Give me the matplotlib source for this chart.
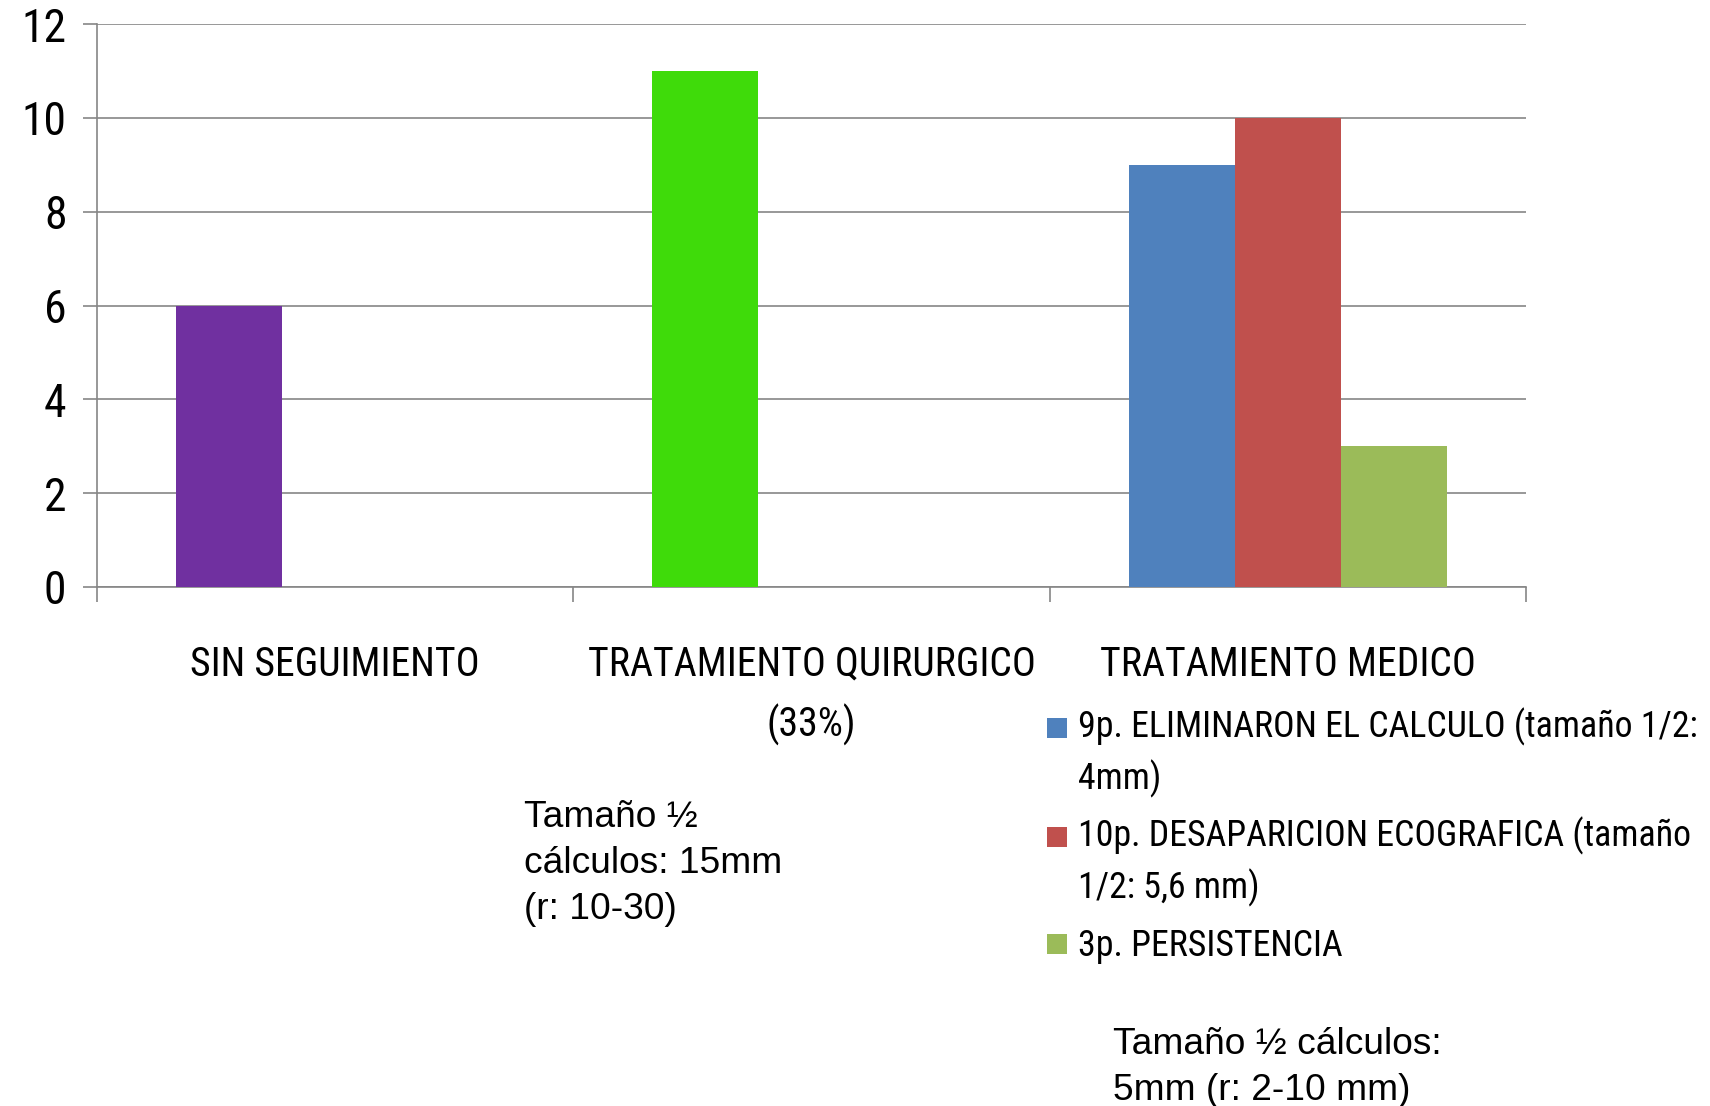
import matplotlib
matplotlib.use("Agg")
import matplotlib.pyplot as plt
from matplotlib.patches import Rectangle
import numpy as np

# ---------------- data ----------------
categories = ["SIN SEGUIMIENTO", "TRATAMIENTO QUIRURGICO\n(33%)", "TRATAMIENTO MEDICO"]
series1 = [6, 11, 9]
series2 = [0, 0, 10]
series3 = [0, 0, 3]
series1_colors = ["#7030A0", "#3FDB0A", "#4F81BD"]
series2_color = "#C0504D"
series3_color = "#9BBB59"
legend_labels = ["9p. ELIMINARON EL CALCULO (tamaño 1/2:\n4mm)",
                 "10p. DESAPARICION ECOGRAFICA (tamaño\n1/2: 5,6 mm)",
                 "3p. PERSISTENCIA"]
legend_colors = ["#4F81BD", "#C0504D", "#9BBB59"]
note_quirurgico = "Tamaño ½\ncálculos: 15mm\n(r: 10-30)"
note_medico = "Tamaño ½ cálculos:\n5mm (r: 2-10 mm)"
yticks = [0, 2, 4, 6, 8, 10, 12]

# ---------------- style ----------------
NARROW = ["Liberation Sans Narrow", "Roboto Condensed", "DejaVu Sans Condensed",
          "Open Sans Condensed", "Roboto", "DejaVu Sans"]
ARIAL = ["Liberation Sans", "DejaVu Sans"]
GRAY = "#868686"
W, H = 1710, 1106

fig = plt.figure(figsize=(W / 100, H / 100), dpi=100)
fig.patch.set_facecolor("white")
renderer = fig.canvas.get_renderer()


def fit_size(s, family, target_px, base=30.0):
    t = fig.text(0, 0, s, fontsize=base, fontfamily=family)
    w = t.get_window_extent(renderer).width
    t.remove()
    return base * target_px / w


fs_ytick = fit_size("10", NARROW, 45)
fs_xlab = fit_size("TRATAMIENTO MEDICO", NARROW, 375)
fs_leg = fit_size("9p. ELIMINARON EL CALCULO (tamaño 1/2:", NARROW, 620)
fs_note = fit_size("cálculos: 15mm", ARIAL, 257)

ax = fig.add_axes([97 / W, 1 - 587 / H, (1526 - 97) / W, (587 - 24) / H])

x = np.arange(len(categories))
bw = 0.2227
ax.bar(x - bw, series1, bw, color=series1_colors, linewidth=0, zorder=3)
ax.bar(x, series2, bw, color=series2_color, linewidth=0, zorder=3)
ax.bar(x + bw, series3, bw, color=series3_color, linewidth=0, zorder=3)

ax.set_xlim(-0.5, len(categories) - 0.5)
ax.set_ylim(0, 12)
ax.set_yticks(yticks)
ax.set_yticklabels([str(v) for v in yticks], fontfamily=NARROW, fontsize=fs_ytick)
ax.yaxis.grid(True, color=GRAY, linewidth=1.2, zorder=0)
ax.set_axisbelow(True)

for s in ["top", "right"]:
    ax.spines[s].set_visible(False)
for s in ["left", "bottom"]:
    ax.spines[s].set_color(GRAY)
    ax.spines[s].set_linewidth(1.2)

ax.tick_params(axis="y", direction="out", length=10, width=1.2, color=GRAY, pad=12)
ax.set_xticks(x)
ax.set_xticklabels(categories, fontfamily=NARROW, fontsize=fs_xlab, linespacing=1.63)
ax.set_xticks(np.arange(len(categories) + 1) - 0.5, minor=True)
ax.tick_params(axis="x", which="major", length=0, pad=41.5)
ax.tick_params(axis="x", which="minor", direction="out", length=11, width=1.2, color=GRAY)

# ---------------- legend (manual) ----------------
leg_x_sq = 1047
leg_x_txt = 1078
leg_first_centers = [728, 837, 944]
leg_last_baselines = [789, 898, 956]
sq = 20
for lab, col, cy, base in zip(legend_labels, legend_colors, leg_first_centers, leg_last_baselines):
    fig.patches.append(Rectangle((leg_x_sq / W, 1 - (cy + sq / 2) / H), sq / W, sq / H,
                                 transform=fig.transFigure, facecolor=col, edgecolor="none"))
    fig.text(leg_x_txt / W, 1 - base / H, lab, fontfamily=NARROW, fontsize=fs_leg,
             va="baseline", ha="left", linespacing=1.44)

# ---------------- notes ----------------
fig.text(524 / W, 1 - 919 / H, note_quirurgico, fontfamily=ARIAL, fontsize=fs_note,
         va="baseline", ha="left", linespacing=1.4)
fig.text(1113 / W, 1 - 1100 / H, note_medico, fontfamily=ARIAL, fontsize=fs_note,
         va="baseline", ha="left", linespacing=1.4)

fig.savefig("out.png", dpi=100)
